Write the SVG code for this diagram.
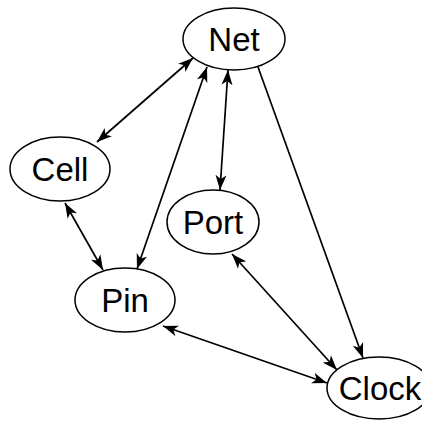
<svg xmlns="http://www.w3.org/2000/svg" width="422" height="422" viewBox="0 0 422 422">
<style>
.n ellipse{fill:#fff;stroke:#000;stroke-width:1.5}
.n text{font-family:"Liberation Sans",Arial,sans-serif;font-size:33px;fill:#000;text-anchor:middle;dominant-baseline:central}
#edges line{stroke:#000;stroke-width:1.7;fill:none}
.bi{marker-start:url(#ah);marker-end:url(#ah)}
.uni{marker-end:url(#ah)}
</style>
<defs>
<marker id="ah" markerUnits="userSpaceOnUse" markerWidth="16" markerHeight="12" refX="15" refY="6" orient="auto-start-reverse"><path d="M0,0.5 L15,6 L0,11.5 L4,6 z" fill="#000"/></marker>
</defs>
<g id="edges">
<line class="bi" x1="97" y1="142" x2="193" y2="58"/>
<line class="bi" x1="137" y1="269" x2="207" y2="67"/>
<line class="bi" x1="228" y1="70" x2="220" y2="190"/>
<line class="uni" x1="258" y1="67" x2="363" y2="358"/>
<line class="bi" x1="65" y1="203" x2="103" y2="270"/>
<line class="bi" x1="232" y1="254" x2="337" y2="370"/>
<line class="bi" x1="163" y1="326" x2="327" y2="383"/>
</g>
<g id="net" class="n"><ellipse cx="234" cy="39" rx="51" ry="31"/><text x="234" y="39">Net</text></g>
<g id="cell" class="n"><ellipse cx="60" cy="169" rx="50" ry="32"/><text x="60" y="169">Cell</text></g>
<g id="port" class="n"><ellipse cx="213" cy="222" rx="46" ry="32"/><text x="213" y="222">Port</text></g>
<g id="pin" class="n"><ellipse cx="125" cy="300" rx="50" ry="32"/><text x="125" y="300">Pin</text></g>
<g id="clock" class="n"><ellipse cx="379" cy="388" rx="52" ry="31"/><text x="380" y="388">Clock</text></g>
</svg>
